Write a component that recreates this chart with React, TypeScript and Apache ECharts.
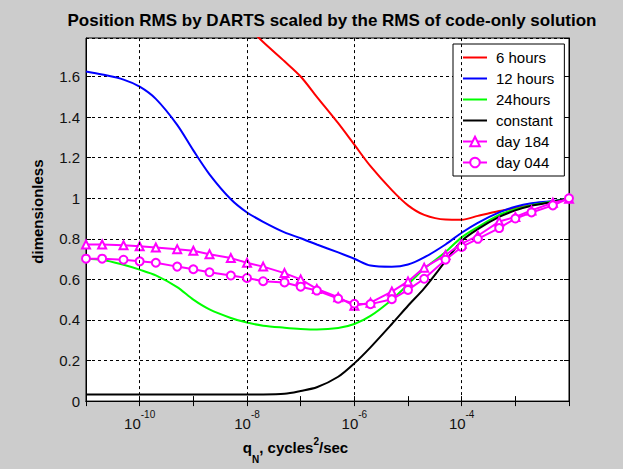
import React, { useEffect, useRef } from "react";
import * as echarts from "echarts";

// q_N sample points (cycles^2/sec): 1-2-5 sequence from 1e-11 to 1e-2
const qValues = [
  1e-11, 2e-11, 5e-11, 1e-10, 2e-10, 5e-10, 1e-9, 2e-9, 5e-9, 1e-8, 2e-8, 5e-8,
  1e-7, 2e-7, 5e-7, 1e-6, 2e-6, 5e-6, 1e-5, 2e-5, 5e-5, 1e-4, 2e-4, 5e-4, 1e-3,
  2e-3, 5e-3, 1e-2,
];

const sixHours = [
  null, null, null, null, null, null, null, null, null, 1.85, 1.77, 1.675,
  1.6, 1.5, 1.37, 1.264, 1.158, 1.04, 0.965, 0.918, 0.895, 0.894, 0.913, 0.937,
  0.952, 0.966, 0.984, 1.0,
];
const twelveHours = [
  1.625, 1.61, 1.585, 1.55, 1.49, 1.362, 1.236, 1.118, 0.995, 0.93, 0.884, 0.832,
  0.803, 0.772, 0.733, 0.702, 0.668, 0.662, 0.673, 0.708, 0.772, 0.83, 0.879, 0.93,
  0.958, 0.975, 0.986, 1.0,
];
const twentyFourHours = [
  0.702, 0.697, 0.672, 0.648, 0.62, 0.562, 0.5, 0.452, 0.41, 0.387, 0.372, 0.362,
  0.356, 0.353, 0.36, 0.38, 0.42, 0.5, 0.575, 0.652, 0.735, 0.807, 0.858, 0.918,
  0.946, 0.966, 0.984, 1.0,
];
const constant = [
  0.033, 0.033, 0.033, 0.033, 0.033, 0.033, 0.033, 0.033, 0.033, 0.033, 0.033, 0.036,
  0.05, 0.068, 0.12, 0.186, 0.265, 0.38, 0.47, 0.556, 0.69, 0.79, 0.848, 0.908,
  0.94, 0.963, 0.982, 1.0,
];
const day184 = [
  0.772, 0.772, 0.768, 0.763, 0.757, 0.749, 0.741, 0.724, 0.705, 0.682, 0.663, 0.631,
  0.6, 0.553, 0.512, 0.47, 0.485, 0.54, 0.59, 0.658, 0.72, 0.776, 0.815, 0.885,
  0.908, 0.94, 0.978, 0.997,
];
const day044 = [
  0.702, 0.702, 0.697, 0.689, 0.682, 0.663, 0.65, 0.635, 0.619, 0.607, 0.591, 0.585,
  0.564, 0.545, 0.505, 0.48, 0.478, 0.502, 0.548, 0.603, 0.697, 0.76, 0.8, 0.853,
  0.9, 0.93, 0.965, 1.0,
];

const xTickLabels = [-10, -8, -6, -4]; // exponents labelled / gridded
const yTickLabels = [0, 0.2, 0.4, 0.6, 0.8, 1, 1.2, 1.4, 1.6];

const FONT = "'Liberation Sans', Arial, Helvetica, sans-serif";
const LINE_ICON = "path://M0,0H24V2H0Z";

const toPairs = (vals: (number | null)[]) =>
  qValues.map((q, i) => [Math.log10(q), vals[i]]);

export default function App() {
  const ref = useRef<HTMLDivElement>(null);

  useEffect(() => {
    if (!ref.current) return;
    const chart = echarts.init(ref.current, null, { renderer: "svg" });

    const lineSeries = (
      name: string,
      color: string,
      vals: (number | null)[],
      extra: any = {}
    ) => ({
      name,
      type: "line",
      data: toPairs(vals),
      smooth: 0.3,
      symbol: "none",
      lineStyle: { color, width: 2 },
      itemStyle: { color },
      z: 3,
      ...extra,
    });

    const option: any = {
      animation: false,
      backgroundColor: "#cccccc",
      textStyle: { fontFamily: FONT },
      title: {
        text: "Position RMS by DARTS scaled by the RMS of code-only solution",
        left: 327,
        textAlign: "center",
        top: 7,
        textStyle: { fontFamily: FONT, fontSize: 17, fontWeight: "bold", color: "#000" },
      },
      grid: {
        left: 86,
        top: 38,
        right: 54,
        bottom: 51,
        show: true,
        backgroundColor: "#ffffff",
        borderColor: "#000",
        borderWidth: 1,
        containLabel: false,
      },
      legend: {
        orient: "vertical",
        left: 453,
        top: 44,
        padding: [6, 10, 6, 9],
        itemWidth: 24,
        itemHeight: 12,
        itemGap: 6,
        backgroundColor: "#ffffff",
        borderColor: "#000",
        borderWidth: 1,
        selectedMode: false,
        textStyle: { fontFamily: FONT, fontSize: 15, color: "#000", padding: [0, 0, 0, 4] },
        data: [
          { name: "6 hours", icon: LINE_ICON },
          { name: "12 hours", icon: LINE_ICON },
          { name: "24hours", icon: LINE_ICON },
          { name: "constant", icon: LINE_ICON },
          { name: "day 184" },
          { name: "day 044" },
        ],
      },
      xAxis: [
        {
          type: "value",
          min: -11,
          max: -2,
          interval: 1,
          position: "bottom",
          axisLine: { show: true, lineStyle: { color: "#000" } },
          axisTick: { show: true, inside: true, length: 5, lineStyle: { color: "#000" } },
          splitLine: { show: false },
          axisLabel: {
            margin: 8,
            formatter: (v: number) =>
              xTickLabels.includes(Math.round(v)) && Math.abs(v - Math.round(v)) < 1e-6
                ? `{b|10}{s|${Math.round(v)}}`
                : "",
            rich: {
              b: { fontFamily: FONT, fontSize: 15, color: "#111", lineHeight: 22, verticalAlign: "bottom" },
              s: { fontFamily: FONT, fontSize: 10, color: "#111", lineHeight: 10, verticalAlign: "top" },
            },
          },
          name: "{b|q}{sub|N}{b|, cycles}{sup|2}{b|/sec}",
          nameLocation: "middle",
          nameGap: 32,
          nameTextStyle: {
            padding: [0, 64, 0, 0],
            rich: {
              b: { fontFamily: FONT, fontSize: 15, fontWeight: "bold", color: "#000", lineHeight: 22, verticalAlign: "middle" },
              sub: { fontFamily: FONT, fontSize: 10, fontWeight: "bold", color: "#000", lineHeight: 10, verticalAlign: "bottom", padding: [0, 0, -6, 0] },
              sup: { fontFamily: FONT, fontSize: 10, fontWeight: "bold", color: "#000", lineHeight: 10, verticalAlign: "top", padding: [0, 0, 6, 0] },
            },
          },
        },
        {
          type: "value",
          min: -11,
          max: -2,
          interval: 1,
          position: "top",
          axisLine: { show: true, lineStyle: { color: "#000" } },
          axisTick: { show: true, inside: true, length: 5, lineStyle: { color: "#000" } },
          axisLabel: { show: false },
          splitLine: { show: false },
        },
      ],
      yAxis: [
        {
          type: "value",
          min: 0,
          max: 1.79,
          interval: 0.2,
          position: "left",
          axisLine: { show: true, lineStyle: { color: "#000" } },
          axisTick: { show: true, inside: true, length: 5, lineStyle: { color: "#000" } },
          axisLabel: {
            margin: 6,
            fontFamily: FONT,
            fontSize: 15,
            color: "#111",
            showMaxLabel: false,
            formatter: (v: number) => {
              const r = Math.round(v * 10) / 10;
              return yTickLabels.some((t) => Math.abs(t - v) < 1e-6) ? String(r) : "";
            },
          },
          splitLine: { show: true, lineStyle: { color: "#000", type: [3, 3], width: 1 } },
          name: "dimensionless",
          nameLocation: "middle",
          nameGap: 41,
          nameTextStyle: {
            fontFamily: FONT,
            fontSize: 15,
            fontWeight: "bold",
            color: "#000",
            padding: [0, 0, 0, 16],
          },
        },
        {
          type: "value",
          min: 0,
          max: 1.79,
          interval: 0.2,
          position: "right",
          axisLine: { show: true, lineStyle: { color: "#000" } },
          axisTick: { show: true, inside: true, length: 5, lineStyle: { color: "#000" } },
          axisLabel: { show: false },
          splitLine: { show: false },
        },
      ],
      series: [
        {
          name: "grid",
          type: "line",
          data: [],
          silent: true,
          z: 1,
          markLine: {
            silent: true,
            symbol: "none",
            label: { show: false },
            lineStyle: { color: "#000", type: [3, 3], width: 1 },
            data: xTickLabels.map((x) => ({ xAxis: x })),
          },
        },
        lineSeries("6 hours", "#ff0000", sixHours),
        lineSeries("12 hours", "#0000ff", twelveHours),
        lineSeries("24hours", "#00ff00", twentyFourHours),
        lineSeries("constant", "#000000", constant),
        lineSeries("day 184", "#ff00ff", day184, {
          smooth: false,
          symbol: "emptyTriangle",
          symbolSize: 8,
          showSymbol: true,
          itemStyle: { color: "#ff00ff", borderWidth: 1.5 },
          z: 4,
        }),
        lineSeries("day 044", "#ff00ff", day044, {
          smooth: false,
          symbol: "emptyCircle",
          symbolSize: 8,
          showSymbol: true,
          itemStyle: { color: "#ff00ff", borderWidth: 1.5 },
          z: 4,
        }),
      ],
    };

    chart.setOption(option);
    return () => chart.dispose();
  }, []);

  return (
    <div
      ref={ref}
      style={{ position: "absolute", left: 0, top: 0, width: 623, height: 469 }}
    />
  );
}
